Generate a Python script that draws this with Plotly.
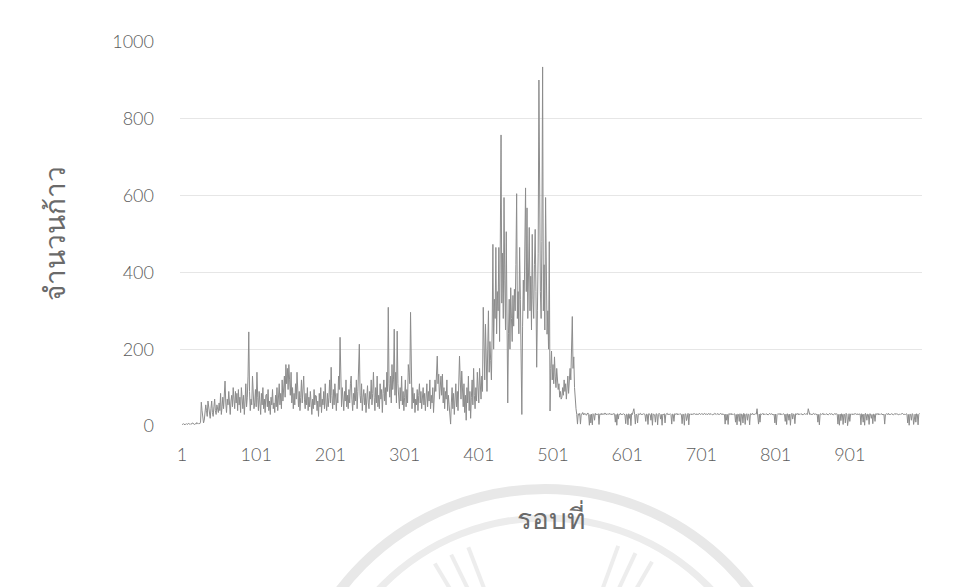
import math
import plotly.graph_objects as go

# step counts per round (~995 rounds)
seg_a = [5,4,6,5,3,5,6,4,5,7,5,4,6,5,8,6,5,4,6,5,9,6,5,7,6]
seg_b = [10,62,40,18,8,15,30,55,40,25,65,50,30,20,45,65,35,25,50,70,40,30,55,45,35]
seg_c = [60,40,85,30,50,75,45,95,117,60,35,70,55,90,40,30,65,80,50,100,70,45,90,60,85]
seg_d = [40,95,55,75,35,100,60,45,80,30,65,110,50,75,130,245,90,40,70,55,130,80,45,60,95]
seg_e = [50,140,75,40,90,60,30,85,55,100,45,70,35,80,83,50,95,40,65,30,75,55,95,45,60]
seg_f = [35,80,50,100,40,70,110,55,85,45,120,65,90,130,75,160,110,150,95,160,120,80,140,60,100]
seg_g = [45,85,55,110,70,140,100,50,90,40,75,120,60,95,130,70,45,85,55,100,40,75,50,90,65]
seg_h = [30,70,45,95,55,80,78,40,65,25,85,50,100,35,70,55,90,45,110,60,40,85,50,75,120]
seg_i = [60,153,80,45,95,55,110,70,40,85,60,130,95,231,75,50,100,60,40,90,65,120,50,80,45]
seg_j = [95,60,110,130,70,40,85,55,100,65,120,45,90,150,213,80,60,110,40,75,95,55,85,35,70]
seg_k = [105,60,45,90,70,120,55,85,140,75,40,100,60,130,50,80,45,110,70,95,35,85,120,65,100]
seg_l = [55,140,90,309,110,75,130,60,160,95,120,252,80,140,60,247,110,70,45,100,65,130,55,90,40]
seg_m = [75,120,50,95,60,160,140,110,296,80,45,100,60,85,35,70,55,95,40,80,110,60,90,45,70]
seg_n = [100,55,85,40,75,110,50,90,65,120,45,80,60,100,35,75,120,90,140,182,110,135,70,95,130]
seg_o = [80,135,60,100,45,90,70,120,40,80,55,15,5,60,100,45,85,30,70,110,50,90,40,130,182]
seg_p = [120,70,143,90,50,110,35,80,15,100,60,130,40,90,20,75,120,55,150,80,45,100,65,140,90]
seg_q = [60,150,110,70,130,90,309,180,120,265,150,90,200,300,140,220,170,120,250,473,200,330,280,465,240]
seg_r = [350,300,465,220,400,758,320,450,280,595,380,250,506,300,60,240,330,200,360,280,220,340,260,356,300]
seg_s = [420,605,280,350,240,465,330,200,30,260,380,300,450,620,350,568,280,420,517,300,390,250,499,330,280]
seg_t = [420,512,350,153,300,450,901,413,350,280,480,935,300,420,250,595,380,239,300,200,480,39,150,195,120]
seg_u = [160,110,180,130,100,150,120,95,110,75,90,70,75,100,80,120,90,110,70,95,130,85,110,150,120]
seg_v = [200,285,150,180,100,60,45,30,5,32,28,33,5,30,31,35,29,33,30,32,28,31,34,30,2]
seg_w = [30,8,31,3,32,30,15,33,29,31,30,32,4,31,30,33,29,32,31,30,34,31,29,32,30]
seg_x = [31,33,30,32,29,31,30,33,31,10,30,2,32,18,31,30,33,29,31,30,32,30,29,6,31]
seg_y = [30,3,32,20,31,1,33,30,38,45,30,5,31,28,8,32,30,31,33,29,31,30,32,31,30]
seg_z = [12,31,30,4,32,31,30,15,33,2,31,30,29,10,32,31,3,30,33,31,18,30,2,31,29]
seg_aa = [32,8,30,31,33,29,31,30,32,30,5,31,30,12,32,31,30,33,29,31,30,32,31,30,6]
seg_ab = [31,30,2,32,31,14,30,33,3,31,30,32,29,31,30,33,31,30,32,29,31,30,33,31,30]
seg_ac = [32,31,29,30,33,31,30,32,29,31,33,30,31,32,30,29,31,30,33,31,30,32,31,29,30]
seg_ad = [31,33,30,32,29,31,30,5,31,15,30,4,32,31,30,33,29,31,30,32,31,10,30,3,31]
seg_ae = [30,12,32,2,31,30,8,33,31,4,30,32,15,31,30,3,32,31,30,33,29,31,30,32,31]
seg_af = [45,30,5,31,10,32,30,31,33,29,31,30,32,31,30,29,31,33,30,32,31,30,29,31,8]
seg_ag = [31,3,30,32,31,30,33,29,31,30,32,31,30,12,31,4,32,30,15,31,2,30,33,18,31]
seg_ah = [30,6,32,31,30,33,29,31,30,32,31,30,29,31,33,30,32,31,30,45,31,30,32,29,31]
seg_ai = [30,33,31,30,32,29,31,10,30,3,31,32,30,31,33,29,31,30,32,31,30,29,31,33,30]
seg_aj = [32,31,30,29,31,33,30,32,31,5,30,2,31,14,32,30,4,31,30,8,33,31,1,30,32]
seg_ak = [12,31,30,32,29,31,30,33,31,30,32,29,31,30,31,3,32,30,10,31,2,33,30,15,31]
seg_al = [30,4,32,31,20,30,6,31,30,12,32,31,30,33,29,31,30,32,31,30,29,31,5,30,32]
seg_am = [31,30,33,29,31,30,32,31,30,29,31,33,30,32,31,30,29,31,30,32,31,33,30,29,31]
seg_an = [30,32,31,8,30,2,31,30,15,32,31,4,30,31,10,32,30,3,31,33]

steps = (seg_a + seg_b + seg_c + seg_d + seg_e + seg_f + seg_g + seg_h + seg_i + seg_j
         + seg_k + seg_l + seg_m + seg_n + seg_o + seg_p + seg_q + seg_r + seg_s + seg_t
         + seg_u + seg_v + seg_w + seg_x + seg_y + seg_z + seg_aa + seg_ab + seg_ac + seg_ad
         + seg_ae + seg_af + seg_ag + seg_ah + seg_ai + seg_aj + seg_ak + seg_al + seg_am + seg_an)
rounds = list(range(1, len(steps) + 1))

x_tick_vals = [1, 101, 201, 301, 401, 501, 601, 701, 801, 901]
x_tick_text = ["1", "101", "201", "301", "401", "501", "601", "701", "801", "901"]
y_tick_vals = [0, 200, 400, 600, 800, 1000]

x_title = "รอบที่"
y_title = "จำนวนก้าว"

W, H = 967, 587
ML, MR, MT, MB = 172, 53, 34, 169
PW, PH = W - ML - MR, H - MT - MB


def px_x(v):
    return (v - ML) / PW


def px_y(v):
    return (H - MB - v) / PH


fig = go.Figure()
fig.add_trace(go.Scatter(
    x=rounds, y=steps, mode="lines",
    line=dict(color="#8c8c8c", width=1),
    showlegend=False, hoverinfo="skip",
))

tick_font = dict(family="Lato, Open Sans, sans-serif", size=18, color="#5c5c5c", weight=300)
title_font = dict(family="Noto Sans, sans-serif", size=28, color="#6a6a6a", weight=300)

# faint circular seal watermark from the scanned page (figure pixel coords)
cx, cy = 537, 739
for r, w, col in [(258, 10, "#e8e8e8"), (229, 7, "#ececec")]:
    fig.add_shape(type="circle", xref="paper", yref="paper", layer="below",
                  x0=px_x(cx - r), x1=px_x(cx + r),
                  y0=px_y(cy + r), y1=px_y(cy - r),
                  line=dict(color=col, width=w))
for ang in [-31, -26, -21, 20, 25, 30]:
    a = math.radians(ang)
    r0, r1 = 150, 214
    fig.add_shape(type="line", xref="paper", yref="paper", layer="below",
                  x0=px_x(cx + r0 * math.sin(a)), y0=px_y(cy - r0 * math.cos(a)),
                  x1=px_x(cx + r1 * math.sin(a)), y1=px_y(cy - r1 * math.cos(a)),
                  line=dict(color="#ededed", width=4))

fig.update_layout(
    width=W, height=H,
    margin=dict(l=ML, r=MR, t=MT, b=MB),
    paper_bgcolor="white", plot_bgcolor="white",
    font=dict(family="Lato, sans-serif", color="#555555"),
    xaxis=dict(
        range=[-1.7, 998.3], automargin=False,
        tickmode="array", tickvals=x_tick_vals, ticktext=x_tick_text,
        tickfont=tick_font, showgrid=False, zeroline=False, showline=False,
        ticks="", ticklabelstandoff=16,
        title=dict(text=x_title, font=title_font, standoff=45),
    ),
    yaxis=dict(
        range=[0, 1000], automargin=False,
        tickmode="array", tickvals=y_tick_vals,
        tickfont=tick_font, showgrid=True, gridcolor="#e6e6e6", gridwidth=1,
        zeroline=False, showline=False, ticks="", ticklabelstandoff=25,
        title=dict(text=y_title, font=title_font, standoff=38),
    ),
)

fig.write_html("out.html")
